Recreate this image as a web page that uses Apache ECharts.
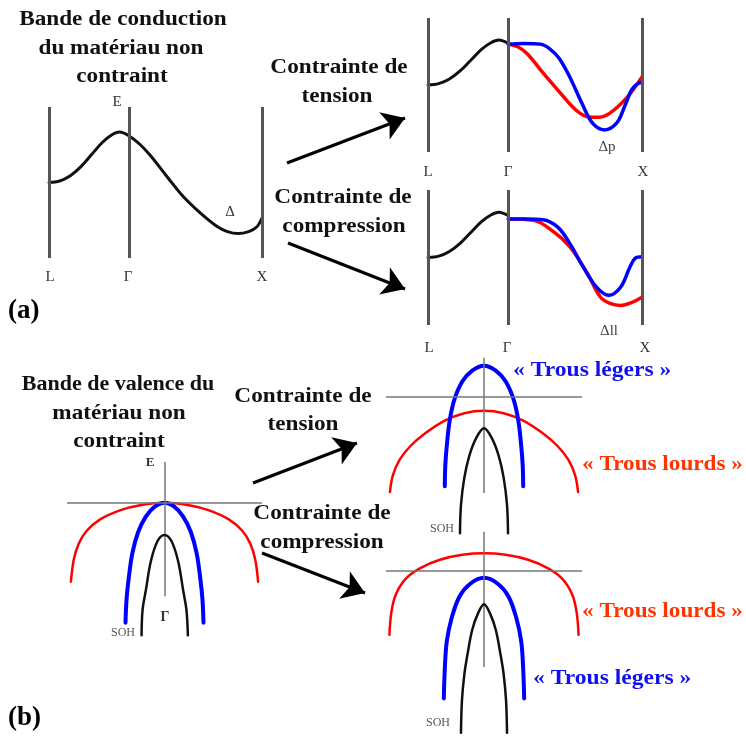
<!DOCTYPE html>
<html>
<head>
<meta charset="utf-8">
<script src="https://cdn.jsdelivr.net/npm/echarts@6/dist/echarts.min.js"></script>
<style>
  html, body { margin: 0; padding: 0; background: #fff; }
  #chart { width: 746px; height: 738px; }
</style>
</head>
<body>
<div id="chart"></div>
<script>
// --- données ---
// bande de conduction : k (L = -0.6, Γ = 0, X = 1), E en unités arbitraires (0..10)
var cbPoints = [-0.6, 0, 1];
var cbUnstrained = [[-0.6,5.0],[-0.52,5.1],[-0.44,5.45],[-0.36,6.05],[-0.28,6.85],[-0.2,7.65],[-0.13,8.15],[-0.07,8.35],[0,8.1],[0.08,7.55],[0.16,6.8],[0.29,5.35],[0.41,4.05],[0.54,2.95],[0.66,2.1],[0.74,1.75],[0.82,1.62],[0.9,1.75],[0.96,2.05],[1.0,2.65]];
var cbLGamma = cbUnstrained.slice(0, 9);
var cbTensionRed = [[0,8.05],[0.07,7.85],[0.14,7.35],[0.26,5.9],[0.39,4.4],[0.51,3.1],[0.6,2.62],[0.68,2.6],[0.76,2.9],[0.89,4.1],[1,5.6]];
var cbTensionBlue = [[0,8.05],[0.12,8.1],[0.24,8.05],[0.31,7.7],[0.38,7.0],[0.46,5.6],[0.55,3.65],[0.63,2.15],[0.72,1.65],[0.81,2.15],[0.87,3.4],[0.92,4.6],[0.96,5.05],[1,5.2]];
var cbCompBlue = [[0,7.85],[0.13,7.85],[0.26,7.8],[0.37,7.25],[0.46,6.05],[0.56,4.3],[0.66,2.8],[0.75,2.2],[0.84,2.8],[0.91,4.3],[0.95,4.95],[1,5.05]];
var cbCompRed = [[0,7.85],[0.19,7.75],[0.34,6.9],[0.46,5.8],[0.59,3.85],[0.69,2.05],[0.76,1.6],[0.84,1.45],[0.92,1.65],[1,2.05]];

// bande de valence : k (-1..1), E (0 = sommet non contraint)
var vbAxisTop = [0.42, 0.40, 0.40];
var vbAxisBottom = [-0.96, -0.98, -0.98];
var vbHeavy0 = [[-0.96,-0.81],[-0.93,-0.58],[-0.88,-0.42],[-0.8,-0.29],[-0.66,-0.17],[-0.45,-0.075],[-0.25,-0.025],[0,0],[0.25,-0.025],[0.45,-0.075],[0.66,-0.17],[0.8,-0.29],[0.88,-0.42],[0.93,-0.58],[0.96,-0.81]];
var vbLight0 = [[-0.40,-1.23],[-0.39,-1.0],[-0.37,-0.8],[-0.33,-0.52],[-0.27,-0.3],[-0.19,-0.14],[-0.1,-0.04],[0,0],[0.1,-0.04],[0.19,-0.14],[0.27,-0.3],[0.33,-0.52],[0.37,-0.8],[0.39,-1.0],[0.40,-1.23]];
var vbSO0 = [[-0.235,-1.36],[-0.225,-1.1],[-0.19,-0.89],[-0.14,-0.6],[-0.07,-0.39],[0,-0.33],[0.07,-0.39],[0.14,-0.6],[0.19,-0.89],[0.225,-1.1],[0.24,-1.36]];
var vbLightT = [[-0.40,-0.91],[-0.395,-0.7],[-0.38,-0.5],[-0.35,-0.24],[-0.3,-0.02],[-0.22,0.16],[-0.12,0.27],[0,0.32],[0.12,0.27],[0.22,0.16],[0.3,-0.02],[0.35,-0.24],[0.38,-0.5],[0.395,-0.7],[0.40,-0.91]];
var vbHeavyT = [[-0.96,-0.97],[-0.93,-0.8],[-0.86,-0.64],[-0.75,-0.5],[-0.6,-0.37],[-0.4,-0.24],[-0.2,-0.165],[0,-0.14],[0.2,-0.165],[0.4,-0.24],[0.6,-0.37],[0.75,-0.5],[0.86,-0.64],[0.93,-0.8],[0.96,-0.97]];
var vbSOT = [[-0.245,-1.39],[-0.235,-1.1],[-0.2,-0.82],[-0.15,-0.6],[-0.08,-0.42],[0,-0.32],[0.08,-0.42],[0.15,-0.6],[0.2,-0.82],[0.235,-1.1],[0.245,-1.39]];
var vbHeavyC = [[-0.965,-0.65],[-0.945,-0.42],[-0.9,-0.24],[-0.8,-0.08],[-0.65,0.03],[-0.45,0.115],[-0.22,0.165],[0,0.18],[0.22,0.165],[0.45,0.115],[0.65,0.03],[0.8,-0.08],[0.9,-0.24],[0.945,-0.42],[0.965,-0.65]];
var vbLightC = [[-0.41,-1.3],[-0.4,-1.0],[-0.38,-0.72],[-0.33,-0.48],[-0.25,-0.26],[-0.14,-0.13],[0,-0.07],[0.14,-0.13],[0.25,-0.26],[0.33,-0.48],[0.38,-0.72],[0.4,-1.0],[0.41,-1.3]];
var vbSOC = [[-0.235,-1.65],[-0.225,-1.32],[-0.2,-1.05],[-0.17,-0.86],[-0.12,-0.6],[-0.06,-0.43],[0,-0.34],[0.06,-0.43],[0.12,-0.6],[0.17,-0.86],[0.2,-1.05],[0.225,-1.32],[0.235,-1.65]];

// --- mise en page ---
var grids = [
  { left: 49,  top: 107, width: 213, height: 151 },   // (a) non contraint
  { left: 428, top: 18,  width: 214, height: 134 },   // (a) tension
  { left: 428, top: 190, width: 214, height: 135 },   // (a) compression
  { left: 67,  top: 454, width: 195, height: 195 },   // (b) non contraint
  { left: 386, top: 348, width: 196, height: 196 },   // (b) tension
  { left: 386, top: 522, width: 196, height: 215.6 }  // (b) compression
];
var yRanges = [[0,10],[0,10],[0,10],[-1.5,0.5],[-1.5,0.5],[-1.7,0.5]];
var arrows = [
  [[287,163],[405,118]], [[288,243],[405,289]],
  [[253,483],[357,443]], [[262,553],[365,593]]
];

var RED = '#ff0000', BLUE = '#0000ff', BLACK = '#111', GREY = '#555';

function curve(g, data, color, width, z) {
  return {
    type: 'line', xAxisIndex: g, yAxisIndex: g, data: data,
    showSymbol: false, smooth: 0.35, clip: false, silent: true, z: z || 3,
    lineStyle: { color: color, width: width, cap: 'round', join: 'round' }
  };
}

var series = [];
// bandes de conduction
series.push(curve(0, cbUnstrained, BLACK, 3));
series.push(curve(1, cbLGamma, BLACK, 3));
series.push(curve(1, cbTensionRed, RED, 3.5));
series.push(curve(1, cbTensionBlue, BLUE, 3.5, 4));
series.push(curve(2, cbLGamma, BLACK, 3));
series.push(curve(2, cbCompRed, RED, 3.5));
series.push(curve(2, cbCompBlue, BLUE, 3.5, 4));
// lignes L, Γ, X
[0, 1, 2].forEach(function (g) {
  series.push({
    type: 'line', xAxisIndex: g, yAxisIndex: g, data: [], silent: true,
    markLine: {
      symbol: 'none', silent: true, animation: false, label: { show: false },
      lineStyle: { color: GREY, width: 3, type: 'solid' },
      data: cbPoints.map(function (k) { return { xAxis: k }; })
    }
  });
});
// bandes de valence
var vb = [[vbHeavy0, vbLight0, vbSO0], [vbHeavyT, vbLightT, vbSOT], [vbHeavyC, vbLightC, vbSOC]];
vb.forEach(function (set, i) {
  var g = i + 3;
  series.push({
    type: 'line', xAxisIndex: g, yAxisIndex: g, data: [], silent: true,
    markLine: {
      symbol: 'none', silent: true, animation: false, label: { show: false },
      lineStyle: { color: '#777', width: 1.5, type: 'solid' },
      data: [
        { yAxis: 0 },
        [{ coord: [0, vbAxisTop[i]] }, { coord: [0, vbAxisBottom[i]] }]
      ]
    }
  });
  series.push(curve(g, set[0], RED, 2.5, 3));
  series.push(curve(g, set[1], BLUE, 4, 4));
  series.push(curve(g, set[2], BLACK, 2.5, 5));
});
// flèches
series.push({
  type: 'line', xAxisIndex: 0, yAxisIndex: 0, data: [], silent: true,
  markLine: {
    symbol: ['none', 'arrow'], symbolSize: 22, silent: true, animation: false,
    label: { show: false },
    lineStyle: { color: '#000', width: 3, type: 'solid' },
    itemStyle: { color: '#000' },
    data: arrows.map(function (a) {
      return [{ x: a[0][0], y: a[0][1] }, { x: a[1][0], y: a[1][1] }];
    })
  }
});

// --- textes ---
var SERIF = '"Liberation Serif", "Times New Roman", serif';
function txt(text, x, y, o) {
  o = o || {};
  return {
    type: 'text', x: x, y: y, z: 100, silent: true,
    scaleX: o.sx || 1,
    style: {
      text: text, fill: o.fill || '#111',
      font: o.font || ('bold 20px ' + SERIF),
      textAlign: o.align || 'center', textVerticalAlign: 'middle'
    }
  };
}
var TS = 1.16;
var small = '15px ' + SERIF;
var tiny = '12px ' + SERIF;
var graphics = [
  txt('Bande de conduction', 123, 20, { sx: TS }),
  txt('du matériau non', 121, 49, { sx: TS }),
  txt('contraint', 122, 77, { sx: TS }),
  txt('Contrainte de', 339, 68, { sx: TS }),
  txt('tension', 337, 97, { sx: TS }),
  txt('Contrainte de', 343, 198, { sx: TS }),
  txt('compression', 344, 227, { sx: TS }),
  txt('Bande de valence du', 118, 385, { sx: 1.1 }),
  txt('matériau non', 119, 414, { sx: TS }),
  txt('contraint', 119, 442, { sx: TS }),
  txt('Contrainte de', 303, 397, { sx: TS }),
  txt('tension', 303, 425, { sx: TS }),
  txt('Contrainte de', 322, 514, { sx: TS }),
  txt('compression', 322, 543, { sx: TS }),
  txt('« Trous légers »', 513, 371, { sx: 1.18, align: 'left', fill: '#1010f0' }),
  txt('« Trous lourds »', 582, 465, { sx: 1.16, align: 'left', fill: '#ff3300' }),
  txt('« Trous lourds »', 582, 612, { sx: 1.16, align: 'left', fill: '#ff3300' }),
  txt('« Trous légers »', 533, 679, { sx: 1.18, align: 'left', fill: '#1010f0' }),
  txt('(a)', 8, 311, { align: 'left', font: 'bold 27px ' + SERIF, fill: '#000' }),
  txt('(b)', 8, 718, { align: 'left', font: 'bold 27px ' + SERIF, fill: '#000' }),
  // points de symétrie
  txt('E', 117, 102, { font: small, fill: '#333' }),
  txt('L', 50, 277, { font: small, fill: '#333' }),
  txt('Γ', 128, 277, { font: small, fill: '#333' }),
  txt('X', 262, 277, { font: small, fill: '#333' }),
  txt('Δ', 230, 212, { font: small, fill: '#333' }),
  txt('L', 428, 172, { font: small, fill: '#333' }),
  txt('Γ', 508, 172, { font: small, fill: '#333' }),
  txt('X', 643, 172, { font: small, fill: '#333' }),
  txt('Δp', 607, 147, { font: small, fill: '#444' }),
  txt('L', 429, 348, { font: small, fill: '#333' }),
  txt('Γ', 507, 348, { font: small, fill: '#333' }),
  txt('X', 645, 348, { font: small, fill: '#333' }),
  txt('Δll', 609, 331, { font: small, fill: '#444' }),
  txt('E', 150, 463, { font: 'bold 13px ' + SERIF, fill: '#333' }),
  txt('Γ', 165, 617, { font: 'bold 14px ' + SERIF, fill: '#333' }),
  txt('SOH', 123, 633, { font: tiny, fill: '#555' }),
  txt('SOH', 442, 529, { font: tiny, fill: '#555' }),
  txt('SOH', 438, 723, { font: tiny, fill: '#555' })
];

var chart = echarts.init(document.getElementById('chart'));
chart.setOption({
  animation: false,
  backgroundColor: '#fff',
  grid: grids,
  xAxis: grids.map(function (g, i) {
    return { type: 'value', gridIndex: i, min: i < 3 ? -0.6 : -1, max: 1, show: false };
  }),
  yAxis: grids.map(function (g, i) {
    return { type: 'value', gridIndex: i, min: yRanges[i][0], max: yRanges[i][1], show: false };
  }),
  series: series,
  graphic: graphics
});
</script>
</body>
</html>
